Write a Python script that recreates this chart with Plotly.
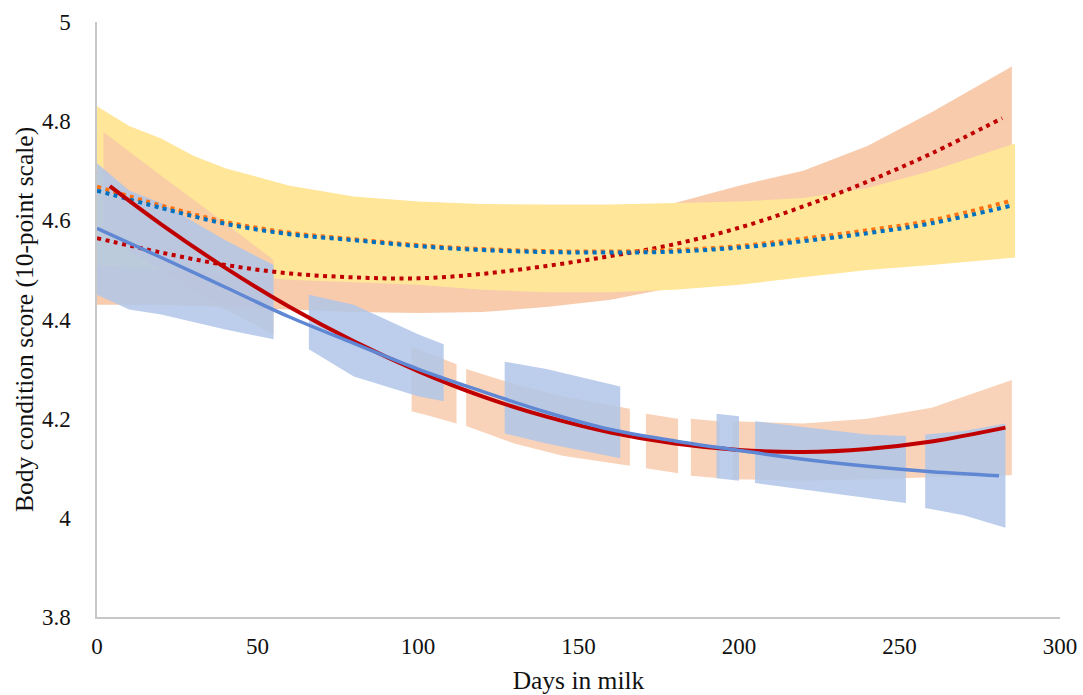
import plotly.graph_objects as go

# ---------------- data ----------------
# solid fitted curves
days_red_solid = [4, 20, 40, 60, 80, 100, 120, 140, 160, 180, 200, 220, 240, 260, 283]
red_solid = [4.669, 4.592, 4.504, 4.425, 4.356, 4.296, 4.245, 4.204, 4.172, 4.150, 4.137, 4.133, 4.139, 4.154, 4.182]

days_blue_solid = [0, 20, 40, 60, 80, 100, 120, 140, 160, 180, 200, 220, 240, 260, 281]
blue_solid = [4.584, 4.525, 4.465, 4.405, 4.352, 4.300, 4.255, 4.213, 4.178, 4.155, 4.136, 4.118, 4.104, 4.093, 4.085]

# dotted fitted curves
days_red_dot = [0, 20, 40, 60, 80, 100, 120, 140, 160, 180, 200, 220, 240, 260, 282]
red_dot = [4.564, 4.535, 4.510, 4.493, 4.485, 4.483, 4.492, 4.508, 4.528, 4.552, 4.585, 4.628, 4.678, 4.735, 4.806]

days_top_dot = [0, 20, 40, 60, 80, 100, 120, 140, 160, 180, 200, 220, 240, 260, 285]
orange_dot = [4.668, 4.630, 4.597, 4.575, 4.562, 4.550, 4.542, 4.538, 4.537, 4.540, 4.548, 4.563, 4.580, 4.600, 4.640]
blue_dot = [4.660, 4.625, 4.593, 4.572, 4.560, 4.548, 4.540, 4.536, 4.535, 4.537, 4.545, 4.558, 4.574, 4.594, 4.630]

# confidence bands (None = gap in the band)
days_yellow_band = [0, 10, 20, 30, 40, 60, 80, 100, 120, 140, 160, 180, 200, 220, 240, 260, 286]
yellow_upper = [4.83, 4.79, 4.765, 4.73, 4.705, 4.67, 4.648, 4.638, 4.633, 4.632, 4.632, 4.635, 4.638, 4.645, 4.665, 4.70, 4.755]
yellow_lower = [4.51, 4.505, 4.50, 4.495, 4.49, 4.48, 4.475, 4.47, 4.46, 4.455, 4.455, 4.46, 4.47, 4.485, 4.50, 4.51, 4.525]

days_red_dot_band = [0, 20, 40, 60, 80, 100, 120, 140, 160, 180, 200, 220, 240, 260, 285]
red_dot_upper = [4.70, 4.67, 4.63, 4.60, 4.58, 4.57, 4.565, 4.58, 4.60, 4.635, 4.67, 4.70, 4.75, 4.818, 4.91]
red_dot_lower = [4.43, 4.43, 4.425, 4.42, 4.415, 4.413, 4.415, 4.425, 4.44, 4.465, 4.50, 4.55, 4.60, 4.64, 4.70]

days_red_solid_band = [2, 20, 40, 55, None, 98, 104, 112, None, 115, 130, 145, 166, None,
                       171, 181, None, 185, 194, None, 198, 220, 240, 260, 285]
red_solid_upper = [4.778, 4.69, 4.594, 4.52, None, 4.345, 4.33, 4.31, None, 4.30, 4.27, 4.245, 4.22, None,
                   4.21, 4.20, None, 4.20, 4.195, None, 4.195, 4.19, 4.20, 4.222, 4.278]
red_solid_lower = [4.57, 4.50, 4.42, 4.37, None, 4.215, 4.205, 4.19, None, 4.185, 4.15, 4.125, 4.105, None,
                   4.10, 4.09, None, 4.085, 4.08, None, 4.078, 4.075, 4.078, 4.082, 4.086]

days_blue_band = [0, 10, 20, 40, 55, None, 66, 80, 100, 108, None, 127, 140, 163, None,
                  193, 200, None, 205, 220, 240, 252, None, 258, 270, 283]
blue_upper = [4.715, 4.66, 4.635, 4.56, 4.51, None, 4.45, 4.43, 4.37, 4.35, None, 4.315, 4.30, 4.265, None,
              4.21, 4.205, None, 4.195, 4.183, 4.168, 4.165, None, 4.168, 4.175, 4.19]
blue_lower = [4.45, 4.42, 4.41, 4.38, 4.36, None, 4.34, 4.285, 4.245, 4.235, None, 4.17, 4.15, 4.12, None,
              4.08, 4.075, None, 4.07, 4.057, 4.04, 4.03, None, 4.02, 4.005, 3.98]

x_ticks = [0, 50, 100, 150, 200, 250, 300]
y_ticks = [3.8, 4.0, 4.2, 4.4, 4.6, 4.8, 5.0]


def band_polygon(days, lower, upper):
    """Closed polygon(s) for a band; None entries split it into separate pieces."""
    xs, ys = [], []
    seg = []
    for d, lo, up in list(zip(days, lower, upper)) + [(None, None, None)]:
        if d is None:
            if seg:
                xs += [s[0] for s in seg] + [s[0] for s in reversed(seg)] + [seg[0][0], None]
                ys += [s[2] for s in seg] + [s[1] for s in reversed(seg)] + [seg[0][2], None]
            seg = []
        else:
            seg.append((d, lo, up))
    return xs, ys


fig = go.Figure()


def add_band(days, lower, upper, color):
    xs, ys = band_polygon(days, lower, upper)
    fig.add_trace(go.Scatter(x=xs, y=ys, mode="none", fill="toself", fillcolor=color,
                             hoverinfo="skip", showlegend=False))


add_band(days_red_dot_band, red_dot_lower, red_dot_upper, "rgb(248,203,173)")
add_band(days_yellow_band, yellow_lower, yellow_upper, "rgb(255,230,153)")
add_band(days_red_solid_band, red_solid_lower, red_solid_upper, "rgba(247,200,168,0.8)")
add_band(days_blue_band, blue_lower, blue_upper, "rgba(176,197,231,0.85)")

dot_style = "4px,4.5px"
fig.add_trace(go.Scatter(x=days_red_dot, y=red_dot, mode="lines", line_shape="spline",
                         line=dict(color="#C00000", width=4, dash=dot_style), showlegend=False))
fig.add_trace(go.Scatter(x=days_top_dot, y=orange_dot, mode="lines", line_shape="spline",
                         line=dict(color="#FF7010", width=4, dash=dot_style), showlegend=False))
fig.add_trace(go.Scatter(x=days_top_dot, y=blue_dot, mode="lines", line_shape="spline",
                         line=dict(color="#0070C0", width=4, dash=dot_style), showlegend=False))
fig.add_trace(go.Scatter(x=days_red_solid, y=red_solid, mode="lines", line_shape="spline",
                         line=dict(color="#C00000", width=4), showlegend=False))
fig.add_trace(go.Scatter(x=days_blue_solid, y=blue_solid, mode="lines", line_shape="spline",
                         line=dict(color="#5F87D3", width=3.5), showlegend=False))

font_family = "Liberation Serif, Times New Roman, serif"
tick_font = dict(family=font_family, size=23, color="#111111")
title_font = dict(family=font_family, size=25.5, color="#111111")
fig.update_layout(
    width=1083, height=695,
    margin=dict(l=97, r=23, t=22, b=78),
    paper_bgcolor="white", plot_bgcolor="white",
    font=dict(family=font_family, color="#111111", size=23),
    xaxis=dict(range=[0, 300], tickvals=x_ticks, showgrid=False, zeroline=False,
               showline=True, linecolor="#C8C8C8", linewidth=1.5, ticks="",
               ticklabelstandoff=8, tickfont=tick_font,
               title=dict(text="Days in milk", font=title_font, standoff=13),
               automargin=False),
    yaxis=dict(range=[3.8, 5.0], tickvals=y_ticks, showgrid=False, zeroline=False,
               showline=True, linecolor="#C8C8C8", linewidth=1.5, ticks="",
               ticklabelstandoff=20, tickfont=tick_font,
               title=dict(text="Body condition score (10-point scale)", font=title_font, standoff=1),
               automargin=False),
)

fig.write_html("out.html")
